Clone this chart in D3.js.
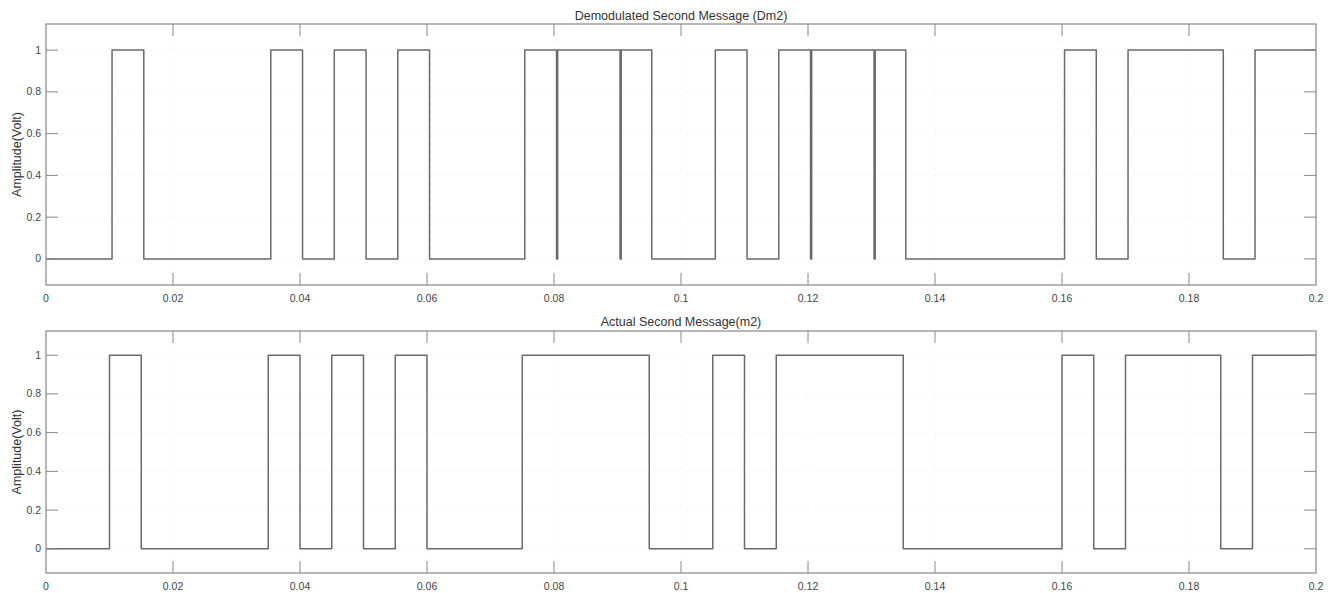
<!DOCTYPE html>
<html>
<head>
<meta charset="utf-8">
<script src="https://cdn.jsdelivr.net/npm/d3@7"></script>
<style>
  body { margin: 0; background: #fff; }
  svg { display: block; font-family: "Liberation Sans", Arial, sans-serif; }
  .tick-label { font-size: 10.5px; fill: #444; }
  .title { font-size: 12.5px; fill: #333; }
  .ylab { font-size: 12.5px; fill: #333; }
</style>
</head>
<body>
<div id="chart"></div>
<script>
// Two stacked panels: demodulated vs actual second message (binary, 5 ms bits)

const bitPeriod = 0.005;
// one value per bit, 0..0.2 s
const m2Bits = [0,0,1,0,0,0,0,1,0,1, 0,1,0,0,0,1,1,1,1,0,
                0,1,0,1,1,1,1,0,0,0, 0,0,1,0,1,1,1,0,1,1];
// demodulated copy is a bit late and has short drop-outs
const dm2Delay = 0.0004;
const dm2Glitches = [0.08, 0.09, 0.12, 0.13];
const glitchWidth = 0.00018;

const xTicks = [0, 0.02, 0.04, 0.06, 0.08, 0.1, 0.12, 0.14, 0.16, 0.18, 0.2];
const xTickLabels = ["0", "0.02", "0.04", "0.06", "0.08", "0.1", "0.12", "0.14", "0.16", "0.18", "0.2"];
const yTicks = [0, 0.2, 0.4, 0.6, 0.8, 1];
const yTickLabels = ["0", "0.2", "0.4", "0.6", "0.8", "1"];

const panels = [
  { title: "Demodulated Second Message (Dm2)", top: 24, bottom: 285, titleY: 20 },
  { title: "Actual Second Message(m2)", top: 331, bottom: 573, titleY: 326 }
];

const W = 1333, H = 593;
const left = 46, right = 1316;

const svg = d3.select("#chart").append("svg")
  .attr("width", W).attr("height", H);

// step points from bits
function bitPoints(bits, delay) {
  const pts = [[0, bits[0]]];
  bits.forEach((b, i) => {
    const t = i === 0 ? 0 : i * bitPeriod + delay;
    pts.push([t, b]);
  });
  pts.push([bits.length * bitPeriod, bits[bits.length - 1]]);
  return pts;
}

function withGlitches(pts, glitches, delay) {
  const out = pts.slice();
  glitches.forEach(g => {
    const t = g + delay;
    out.push([t, 0], [t + glitchWidth, 1]);
  });
  return out.sort((a, b) => a[0] - b[0]);
}

const series = [
  withGlitches(bitPoints(m2Bits, dm2Delay), dm2Glitches, dm2Delay),
  bitPoints(m2Bits, 0)
];

const x = d3.scaleLinear().domain([0, 0.2]).range([left, right]);

panels.forEach((p, pi) => {
  const y = d3.scaleLinear().domain([-0.125, 1.125]).range([p.bottom, p.top]);
  const g = svg.append("g");

  // faint dotted grid
  g.selectAll("line.gx").data(xTicks.slice(1, -1)).join("line")
    .attr("x1", d => x(d)).attr("x2", d => x(d))
    .attr("y1", p.top).attr("y2", p.bottom)
    .attr("stroke", "#ebebeb").attr("stroke-width", 1)
    .attr("stroke-dasharray", "1,7");
  g.selectAll("line.gy").data(yTicks).join("line")
    .attr("x1", left).attr("x2", right)
    .attr("y1", d => y(d)).attr("y2", d => y(d))
    .attr("stroke", "#ebebeb").attr("stroke-width", 1)
    .attr("stroke-dasharray", "1,7");

  // signal
  const line = d3.line()
    .x(d => x(d[0])).y(d => y(d[1]))
    .curve(d3.curveStepAfter);
  g.append("path")
    .datum(series[pi])
    .attr("fill", "none")
    .attr("stroke", "#6a6a6a")
    .attr("stroke-width", 1.5)
    .attr("stroke-linejoin", "round")
    .attr("d", line);

  // box
  g.append("rect")
    .attr("x", left).attr("y", p.top)
    .attr("width", right - left).attr("height", p.bottom - p.top)
    .attr("fill", "none").attr("stroke", "#888").attr("stroke-width", 1.2);

  // inward ticks on all sides
  const tl = 12;
  g.selectAll("line.tb").data(xTicks.slice(1, -1)).join("line")
    .attr("x1", d => x(d)).attr("x2", d => x(d))
    .attr("y1", p.bottom).attr("y2", p.bottom - tl)
    .attr("stroke", "#888");
  g.selectAll("line.tt").data(xTicks.slice(1, -1)).join("line")
    .attr("x1", d => x(d)).attr("x2", d => x(d))
    .attr("y1", p.top).attr("y2", p.top + tl)
    .attr("stroke", "#888");
  g.selectAll("line.tl").data(yTicks).join("line")
    .attr("x1", left).attr("x2", left + tl)
    .attr("y1", d => y(d)).attr("y2", d => y(d))
    .attr("stroke", "#888");
  g.selectAll("line.tr").data(yTicks).join("line")
    .attr("x1", right).attr("x2", right - tl)
    .attr("y1", d => y(d)).attr("y2", d => y(d))
    .attr("stroke", "#888");

  // tick labels
  g.selectAll("text.xl").data(xTicks).join("text")
    .attr("class", "tick-label")
    .attr("x", d => x(d)).attr("y", p.bottom + 17)
    .attr("text-anchor", "middle")
    .text((d, i) => xTickLabels[i]);
  g.selectAll("text.yl").data(yTicks).join("text")
    .attr("class", "tick-label")
    .attr("x", left - 5).attr("y", d => y(d) + 3.5)
    .attr("text-anchor", "end")
    .text((d, i) => yTickLabels[i]);

  // titles
  g.append("text").attr("class", "title")
    .attr("x", (left + right) / 2).attr("y", p.titleY)
    .attr("text-anchor", "middle")
    .text(p.title);
  g.append("text").attr("class", "ylab")
    .attr("transform", `translate(21,${(p.top + p.bottom) / 2}) rotate(-90)`)
    .attr("text-anchor", "middle")
    .text("Amplitude(Volt)");
});
</script>
</body>
</html>
